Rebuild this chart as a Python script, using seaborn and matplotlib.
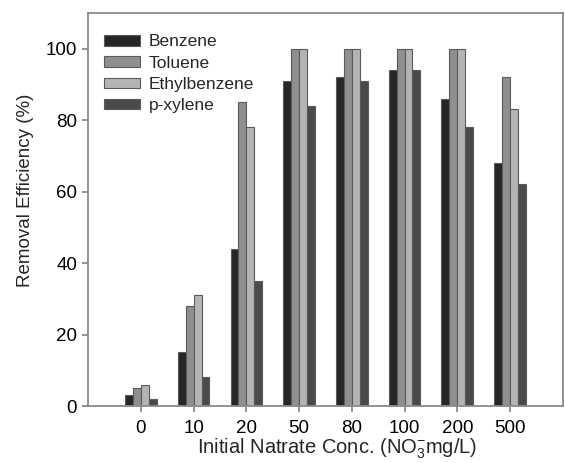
import matplotlib
matplotlib.use("Agg")
import matplotlib.pyplot as plt
import seaborn as sns
import pandas as pd

concs = ["0", "10", "20", "50", "80", "100", "200", "500"]
benzene = [3, 15, 44, 91, 92, 94, 86, 68]
toluene = [5, 28, 85, 100, 100, 100, 100, 92]
ethylbenzene = [6, 31, 78, 100, 100, 100, 100, 83]
pxylene = [2, 8, 35, 84, 91, 94, 78, 62]
series = ["Benzene", "Toluene", "Ethylbenzene", "p-xylene"]
colors = ["#262626", "#8f8f8f", "#b4b4b4", "#4a4a4a"]

rows = []
for name, vals in zip(series, [benzene, toluene, ethylbenzene, pxylene]):
    for c, v in zip(concs, vals):
        rows.append({"conc": c, "compound": name, "value": v})
df = pd.DataFrame(rows)

sns.set_theme(style="white")
plt.rcParams["font.family"] = ["Liberation Sans", "DejaVu Sans"]
plt.rcParams["mathtext.default"] = "regular"

fig = plt.figure(figsize=(5.65, 4.63), dpi=100)
ax = fig.add_axes([0.156, 0.123, 0.84, 0.849])

sns.barplot(data=df, x="conc", y="value", hue="compound", order=concs,
            hue_order=series, palette=colors, saturation=1, width=0.6,
            edgecolor="#5a5a5a", linewidth=0.8, ax=ax)

ax.set_xlim(-1, 8)
ax.set_ylim(0, 110)
ax.set_yticks([0, 20, 40, 60, 80, 100])
ax.tick_params(axis="both", labelsize=13.5, colors="#808080", labelcolor="black",
               direction="out", length=4, width=1.2, bottom=True, left=True, pad=4)
ax.tick_params(axis="x", pad=6)
for s in ax.spines.values():
    s.set_color("#8a8a8a")
    s.set_linewidth(1.3)
ax.set_ylabel("Removal Efficiency (%)", fontsize=13.5)
ax.yaxis.set_label_coords(-0.115, 0.55)
ax.set_xlabel("Initial Natrate Conc. (NO$_3^{-}$mg/L)", fontsize=14.5)
ax.xaxis.set_label_coords(0.524, -0.077)

leg = ax.legend(loc="upper left", frameon=False, fontsize=12.5,
                handlelength=2.1, handleheight=0.55, labelspacing=0.36,
                handletextpad=0.5,
                bbox_to_anchor=(0.0, 0.985), borderaxespad=0.5)

fig.savefig("out.png", dpi=100)
